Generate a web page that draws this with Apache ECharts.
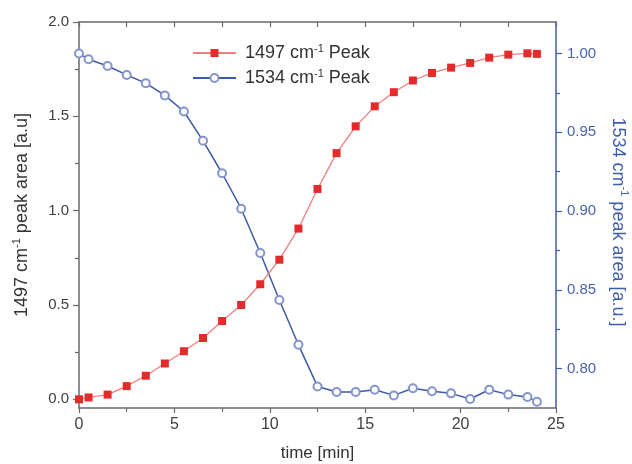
<!DOCTYPE html>
<html>
<head>
<meta charset="utf-8">
<script src="https://cdn.jsdelivr.net/npm/echarts@6/dist/echarts.min.js"></script>
<style>
  html, body { margin: 0; padding: 0; background: #fff; }
  #chart { width: 632px; height: 464px; }
</style>
</head>
<body>
<div id="chart"></div>
<script>
var times = [0, 0.5, 1.5, 2.5, 3.5, 4.5, 5.5, 6.5, 7.5, 8.5, 9.5, 10.5, 11.5, 12.5,
             13.5, 14.5, 15.5, 16.5, 17.5, 18.5, 19.5, 20.5, 21.5, 22.5, 23.5, 24];
var peak1497 = [0.00, 0.01, 0.025, 0.07, 0.125, 0.19, 0.255, 0.325, 0.415, 0.50, 0.61, 0.74, 0.905, 1.115,
                1.305, 1.447, 1.553, 1.628, 1.69, 1.73, 1.758, 1.783, 1.811, 1.827, 1.834, 1.831];
var peak1534 = [1.000, 0.9964, 0.9921, 0.9864, 0.9812, 0.9734, 0.9632, 0.9446, 0.924, 0.9015, 0.8734, 0.8435, 0.8151, 0.7887,
                0.7852, 0.7852, 0.7866, 0.783, 0.7875, 0.7856, 0.7843, 0.7807, 0.7866, 0.7835, 0.782, 0.779];
var leftTicks = [0, 0.5, 1.0, 1.5, 2.0];
var leftMinor = [0.25, 0.75, 1.25, 1.75];
var rightTicks = [0.80, 0.85, 0.90, 0.95, 1.00];
var rightMinor = [0.825, 0.875, 0.925, 0.975];

var grey = '#6a6a6a';
var blue = '#3f5eac';
var font = 'Liberation Sans, Arial, sans-serif';
var sup = { fontSize: 11, verticalAlign: 'top', fontFamily: font };

function pairs(xs, ys) {
    var res = [];
    for (var i = 0; i < xs.length; i++) {
        res.push([xs[i], ys[i]]);
    }
    return res;
}

var chart = echarts.init(document.getElementById('chart'));

var option = {
    backgroundColor: '#fff',
    animation: false,
    grid: { left: 79, top: 22, right: 76, bottom: 56, containLabel: false, outerBoundsMode: 'none' },
    legend: {
        orient: 'vertical',
        left: 187,
        top: 38,
        itemWidth: 43,
        itemHeight: 10,
        itemGap: 5,
        data: ['1497', '1534'],
        formatter: function (name) { return name + ' cm{sup|-1} Peak'; },
        textStyle: {
            fontSize: 18, color: '#333', fontFamily: font, lineHeight: 20,
            padding: [0, 0, 0, 4],
            rich: { sup: { fontSize: 11, verticalAlign: 'top', color: '#333', fontFamily: font } }
        }
    },
    xAxis: [
        {
            type: 'value', min: 0, max: 25, interval: 5, position: 'bottom',
            name: 'time [min]', nameLocation: 'middle', nameGap: 37,
            nameTextStyle: { fontSize: 17, color: '#333', fontFamily: font },
            axisLine: { onZero: false, lineStyle: { color: grey, width: 1.5 } },
            axisTick: { length: 5, lineStyle: { color: grey, width: 1.2 } },
            minorTick: { show: true, splitNumber: 2, length: 4, lineStyle: { color: grey, width: 1.2 } },
            axisLabel: { fontSize: 16, color: '#404040', margin: 9, fontFamily: font },
            splitLine: { show: false }
        },
        {
            type: 'value', min: 0, max: 25, interval: 2.5, position: 'top',
            axisLine: { onZero: false, lineStyle: { color: grey, width: 1.5 } },
            axisTick: { inside: true, length: 5, lineStyle: { color: grey, width: 1.2 } },
            axisLabel: { show: false },
            splitLine: { show: false }
        }
    ],
    yAxis: [
        {
            type: 'value', min: -0.046, max: 2.0, position: 'left',
            name: '1497 cm{sup|-1} peak area [a.u]', nameLocation: 'middle', nameGap: 46,
            nameTextStyle: { fontSize: 18, color: '#333', fontFamily: font, lineHeight: 22,
                rich: { sup: sup } },
            axisLine: { show: true, onZero: false, lineStyle: { color: grey, width: 1.5 } },
            axisTick: { show: true, length: 6, customValues: leftTicks, lineStyle: { color: grey, width: 1.2 } },
            axisLabel: { fontSize: 15, color: '#404040', margin: 10, fontFamily: font, customValues: leftTicks,
                formatter: function (v) { return v.toFixed(1); } },
            splitLine: { show: false }
        },
        {
            type: 'value', min: 0.775, max: 1.02, position: 'right',
            name: '1534 cm{sup|-1} peak area [a.u.]', nameLocation: 'middle', nameGap: 50, nameRotate: -90,
            nameTextStyle: { fontSize: 18, color: blue, fontFamily: font, lineHeight: 22,
                padding: [0, 0, 0, 14],
                rich: { sup: { fontSize: 11, verticalAlign: 'top', color: blue, fontFamily: font } } },
            axisLine: { show: true, onZero: false, lineStyle: { color: blue, width: 1.5 } },
            axisTick: { show: true, length: 6, customValues: rightTicks, lineStyle: { color: blue, width: 1.2 } },
            axisLabel: { fontSize: 15, color: '#4a63ae', margin: 11, fontFamily: font, customValues: rightTicks,
                formatter: function (v) { return v.toFixed(2); } },
            splitLine: { show: false }
        },
        {
            type: 'value', min: -0.046, max: 2.0, position: 'left',
            axisLine: { show: false, onZero: false },
            axisTick: { show: true, length: 4, customValues: leftMinor, lineStyle: { color: grey, width: 1.2 } },
            axisLabel: { show: false },
            splitLine: { show: false }
        },
        {
            type: 'value', min: 0.775, max: 1.02, position: 'right',
            axisLine: { show: false, onZero: false },
            axisTick: { show: true, length: 4, customValues: rightMinor, lineStyle: { color: blue, width: 1.2 } },
            axisLabel: { show: false },
            splitLine: { show: false }
        }
    ],
    series: [
        {
            name: '1534',
            type: 'line',
            yAxisIndex: 1,
            data: pairs(times, peak1534),
            symbol: 'emptyCircle',
            symbolSize: 8,
            itemStyle: { color: '#8595cc', borderWidth: 1.4 },
            lineStyle: { color: '#3d5aa5', width: 1.5 }
        },
        {
            name: '1497',
            type: 'line',
            yAxisIndex: 0,
            data: pairs(times, peak1497),
            symbol: 'rect',
            symbolSize: 8,
            itemStyle: { color: '#e42b2b' },
            lineStyle: { color: '#f07f7f', width: 1.3 }
        }
    ]
};

chart.setOption(option);
</script>
</body>
</html>
